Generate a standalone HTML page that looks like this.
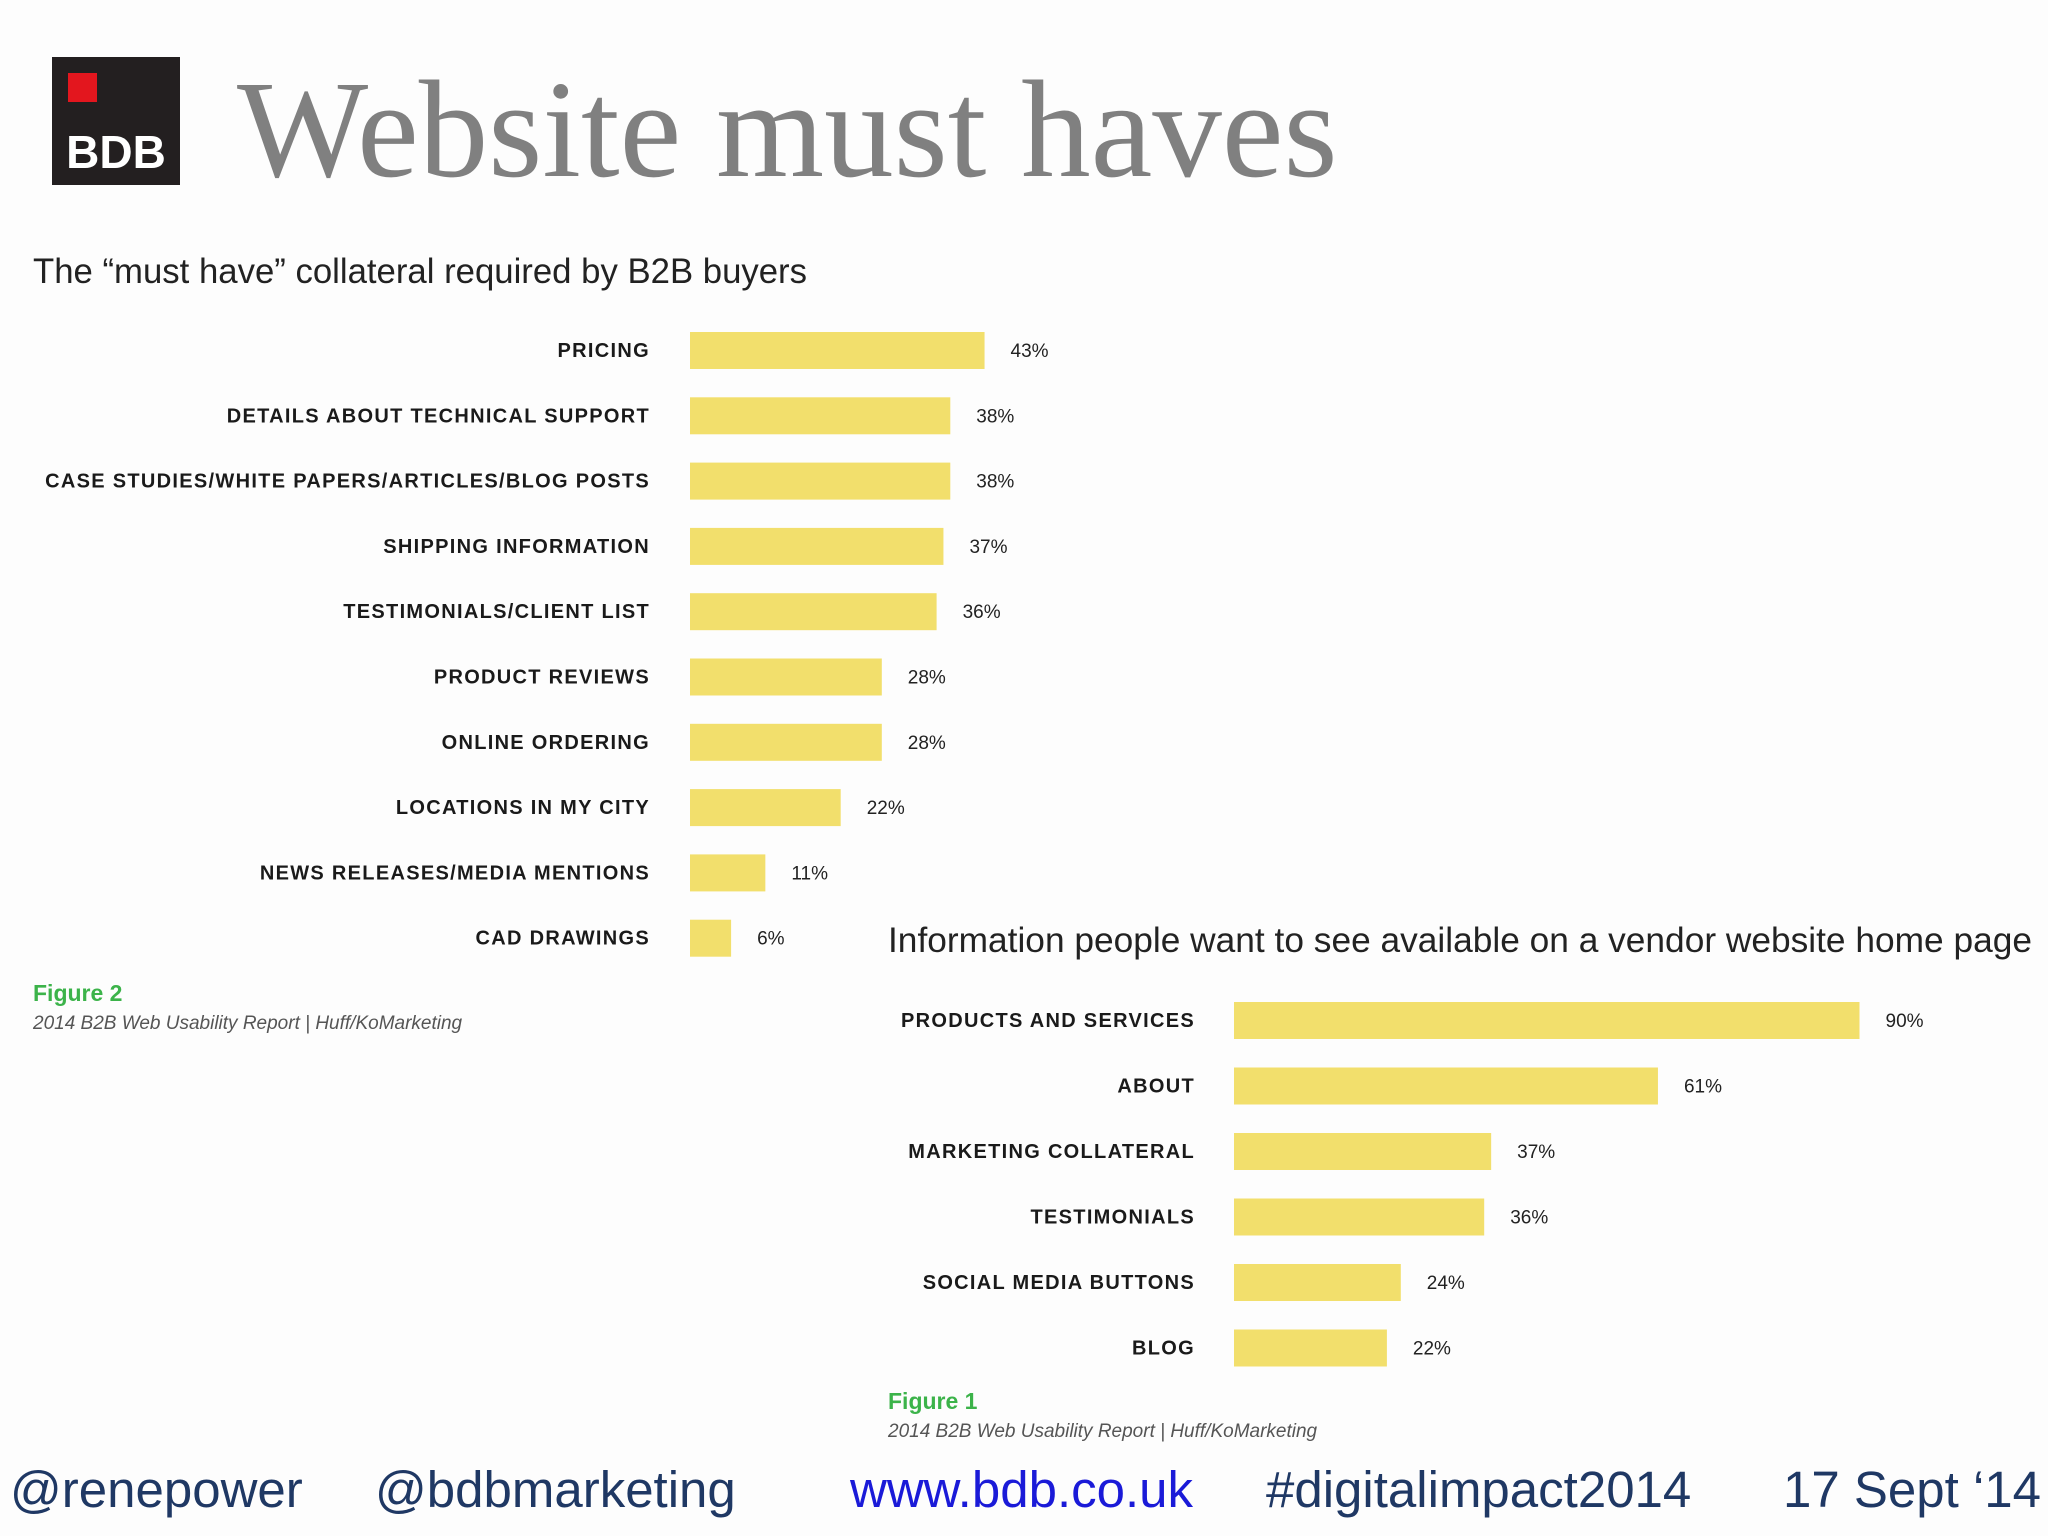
<!DOCTYPE html>
<html><head><meta charset="utf-8"><style>
html,body{margin:0;padding:0;background:#fdfdfd;}
svg{display:block;}
</style></head><body>
<svg id="s" width="2048" height="1536" viewBox="0 0 2048 1536" xmlns="http://www.w3.org/2000/svg">
<rect x="0" y="0" width="2048" height="1536" fill="#fdfdfd"/>
<g>
<rect x="52" y="57" width="128" height="128" fill="#231f20"/>
<rect x="68" y="73" width="29" height="29" fill="#e3161e"/>
<text x="116" y="168" text-anchor="middle" font-family="Liberation Sans, sans-serif" font-weight="bold" font-size="46" fill="#fff">BDB</text>
</g>
<text x="237" y="176" font-family="Liberation Serif, serif" font-size="139" fill="#808080">Website must haves</text>
<text x="33" y="283" font-family="Liberation Sans, sans-serif" font-size="35" fill="#222" textLength="774" lengthAdjust="spacingAndGlyphs">The “must have” collateral required by B2B buyers</text>
<g id="c1"></g>
<text x="33" y="1001" font-family="Liberation Sans, sans-serif" font-weight="bold" font-size="23" fill="#3cb34a">Figure 2</text>
<text x="33" y="1029" font-family="Liberation Sans, sans-serif" font-style="italic" font-size="19" fill="#555">2014 B2B Web Usability Report | Huff/KoMarketing</text>
<text x="888" y="952" font-family="Liberation Sans, sans-serif" font-size="35" fill="#222" textLength="1144" lengthAdjust="spacingAndGlyphs">Information people want to see available on a vendor website home page</text>
<g id="c2"></g>
<text x="888" y="1409" font-family="Liberation Sans, sans-serif" font-weight="bold" font-size="23" fill="#3cb34a">Figure 1</text>
<text x="888" y="1437" font-family="Liberation Sans, sans-serif" font-style="italic" font-size="19" fill="#555">2014 B2B Web Usability Report | Huff/KoMarketing</text>
<g font-family="Liberation Sans, sans-serif" font-size="51">
<text x="10" y="1507" fill="#1f3864">@renepower</text>
<text x="375" y="1507" fill="#1f3864">@bdbmarketing</text>
<text x="850" y="1507" fill="#1a1ad8">www.bdb.co.uk</text>
<text x="1266" y="1507" fill="#1f3864">#digitalimpact2014</text>
<text x="1783" y="1507" fill="#1f3864">17 Sept ‘14</text>
</g>
</svg>
<script>
const cats1 = ["PRICING","DETAILS ABOUT TECHNICAL SUPPORT","CASE STUDIES/WHITE PAPERS/ARTICLES/BLOG POSTS","SHIPPING INFORMATION","TESTIMONIALS/CLIENT LIST","PRODUCT REVIEWS","ONLINE ORDERING","LOCATIONS IN MY CITY","NEWS RELEASES/MEDIA MENTIONS","CAD DRAWINGS"];
const vals1 = [43,38,38,37,36,28,28,22,11,6];
const cats2 = ["PRODUCTS AND SERVICES","ABOUT","MARKETING COLLATERAL","TESTIMONIALS","SOCIAL MEDIA BUTTONS","BLOG"];
const vals2 = [90,61,37,36,24,22];
const NS = "http://www.w3.org/2000/svg";
function draw(gid, cats, vals, x0, labelX, y0, step, pxPer) {
  const g = document.getElementById(gid);
  const xs = v => x0 + v * pxPer;
  const ys = i => y0 + i * step;
  cats.forEach((c, i) => {
    const cy = ys(i);
    const t = document.createElementNS(NS, "text");
    
    
    t.setAttribute("x", labelX); t.setAttribute("y", cy + 7);
    t.setAttribute("text-anchor", "end");
    t.setAttribute("font-family", "Liberation Sans, sans-serif");
    t.setAttribute("font-weight", "bold"); t.setAttribute("font-size", "20");
    t.setAttribute("letter-spacing", "1.3"); t.setAttribute("fill", "#1a1a1a");
    t.textContent = c; g.appendChild(t);
    const r = document.createElementNS(NS, "rect");
    
    
    r.setAttribute("x", x0); r.setAttribute("y", cy - 18);
    r.setAttribute("width", xs(vals[i]) - x0); r.setAttribute("height", 37);
    r.setAttribute("fill", "#f2df6c");
    g.appendChild(r);
    const v = document.createElementNS(NS, "text");
    
    
    v.setAttribute("x", xs(vals[i]) + 26); v.setAttribute("y", cy + 7);
    v.setAttribute("font-family", "Liberation Sans, sans-serif");
    v.setAttribute("font-size", "19"); v.setAttribute("fill", "#222");
    v.textContent = vals[i] + "%"; g.appendChild(v);
  });
}
draw("c1", cats1, vals1, 690, 650, 350, 65.3, 6.85);
draw("c2", cats2, vals2, 1234, 1195, 1020, 65.5, 6.95);
</script>
</body></html>
